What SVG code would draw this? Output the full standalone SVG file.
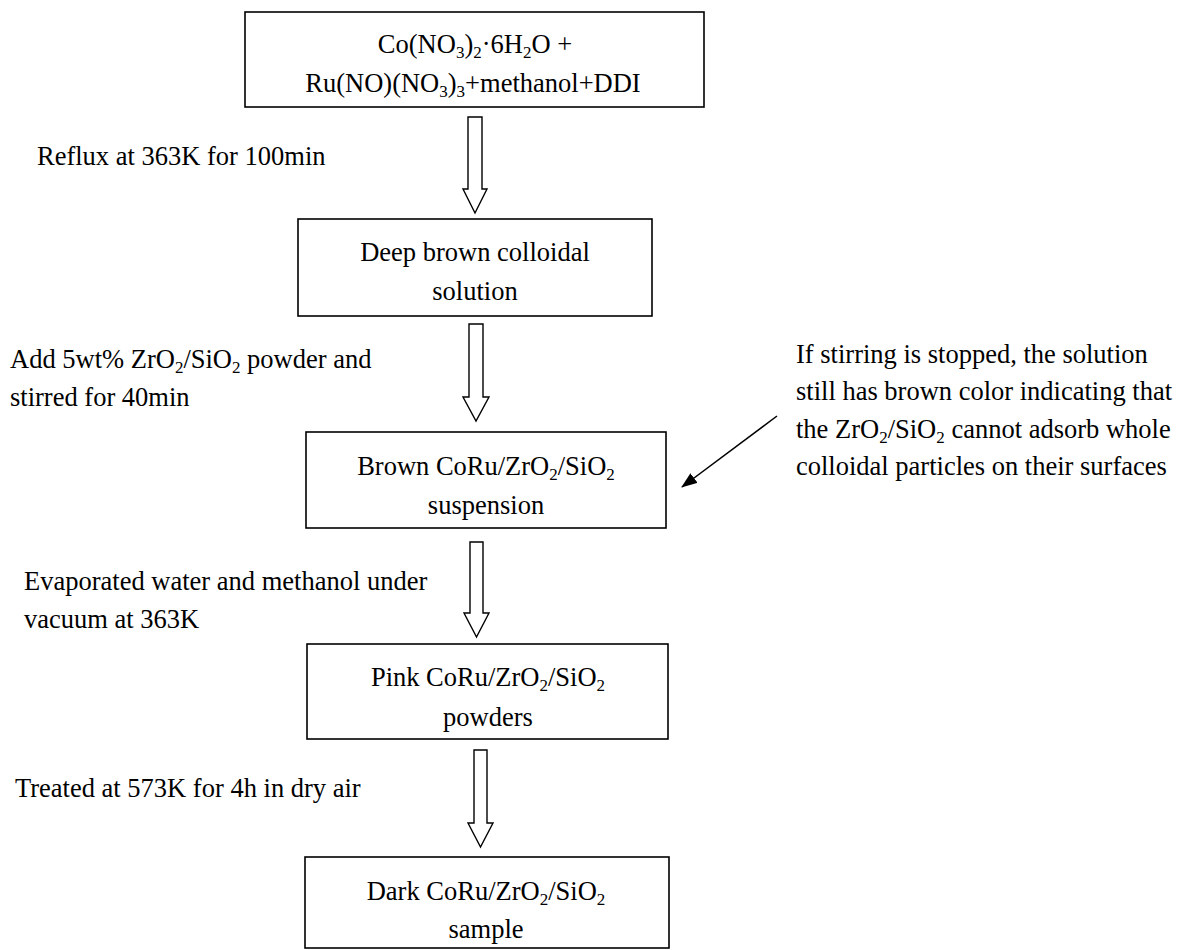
<svg xmlns="http://www.w3.org/2000/svg" width="1179" height="950" viewBox="0 0 1179 950">
<style>
text{font-family:"Liberation Serif","Times New Roman",serif;font-size:26.5px;fill:#000}
.c{text-anchor:middle}
.s{font-size:17px}
.box{fill:#fff;stroke:#000;stroke-width:1.6}
.blk{fill:#fff;stroke:#000;stroke-width:1.4;stroke-linejoin:miter}
</style>
<defs>
<marker id="ah" markerWidth="16" markerHeight="12" refX="15" refY="6" orient="auto" markerUnits="userSpaceOnUse" viewBox="0 0 16 12">
<path d="M0,0 L16,6 L0,12 Z" fill="#000"/>
</marker>
</defs>
<rect width="1179" height="950" fill="#fff"/>

<g id="n1">
<rect class="box" x="245" y="12" width="459" height="95"/>
<text class="c" x="475" y="53">Co(NO<tspan class="s" dy="5">3</tspan><tspan dy="-5">)</tspan><tspan class="s" dy="5">2</tspan><tspan dy="-5">·6H</tspan><tspan class="s" dy="5">2</tspan><tspan dy="-5">O +</tspan></text>
<text class="c" x="473" y="92">Ru(NO)(NO<tspan class="s" dy="5">3</tspan><tspan dy="-5">)</tspan><tspan class="s" dy="5">3</tspan><tspan dy="-5">+methanol+DDI</tspan></text>
</g>

<g id="n2">
<rect class="box" x="298" y="219" width="354" height="97"/>
<text class="c" x="475" y="261">Deep brown colloidal</text>
<text class="c" x="475" y="300">solution</text>
</g>

<g id="n3">
<rect class="box" x="306" y="432" width="360" height="96"/>
<text class="c" x="486" y="475">Brown CoRu/ZrO<tspan class="s" dy="5">2</tspan><tspan dy="-5">/SiO</tspan><tspan class="s" dy="5">2</tspan></text>
<text class="c" x="486" y="514">suspension</text>
</g>

<g id="n4">
<rect class="box" x="307" y="644" width="361" height="95"/>
<text class="c" x="488" y="686">Pink CoRu/ZrO<tspan class="s" dy="5">2</tspan><tspan dy="-5">/SiO</tspan><tspan class="s" dy="5">2</tspan></text>
<text class="c" x="488" y="726">powders</text>
</g>

<g id="n5">
<rect class="box" x="305" y="857" width="364" height="91"/>
<text class="c" x="486" y="900">Dark CoRu/ZrO<tspan class="s" dy="5">2</tspan><tspan dy="-5">/SiO</tspan><tspan class="s" dy="5">2</tspan></text>
<text class="c" x="486" y="938">sample</text>
</g>

<g id="connectors">
<polygon class="blk" points="468,117 482,117 482,189 487,189 475,213 463,189 468,189"/>
<polygon class="blk" points="469,324 483,324 483,397 489,397 476,421 463,397 469,397"/>
<polygon class="blk" points="470,542 483,542 483,613 489,613 476.5,637 464,613 470,613"/>
<polygon class="blk" points="474,750 487,750 487,823 493,823 480.5,847 468,823 474,823"/>
<line x1="777" y1="416" x2="682" y2="487" stroke="#000" stroke-width="1.5" marker-end="url(#ah)"/>
</g>

<g id="labels">
<text x="37" y="165">Reflux at 363K for 100min</text>
<text x="10" y="368">Add 5wt% ZrO<tspan class="s" dy="5">2</tspan><tspan dy="-5">/SiO</tspan><tspan class="s" dy="5">2</tspan><tspan dy="-5"> powder and</tspan></text>
<text x="10" y="406">stirred for 40min</text>
<text x="796" y="363">If stirring is stopped, the solution</text>
<text x="796" y="400">still has brown color indicating that</text>
<text x="796" y="438">the ZrO<tspan class="s" dy="5">2</tspan><tspan dy="-5">/SiO</tspan><tspan class="s" dy="5">2</tspan><tspan dy="-5"> cannot adsorb whole</tspan></text>
<text x="796" y="475">colloidal particles on their surfaces</text>
<text x="24" y="590">Evaporated water and methanol under</text>
<text x="24" y="628">vacuum at 363K</text>
<text x="15" y="797">Treated at 573K for 4h in dry air</text>
</g>
</svg>
